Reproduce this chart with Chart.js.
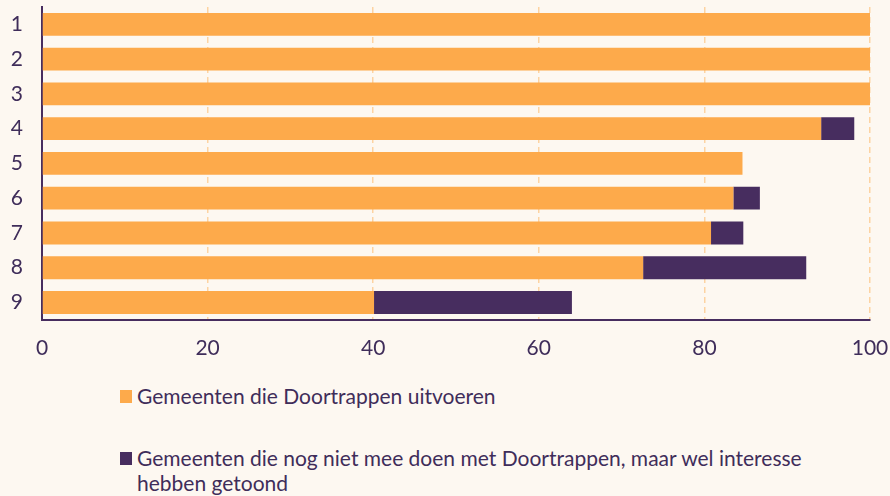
<!DOCTYPE html>
<html>
<head>
<meta charset="utf-8">
<script src="https://cdn.jsdelivr.net/npm/chart.js@4"></script>
<style>
  html, body { margin: 0; padding: 0; background: #fdf8f1; }
  #wrap { position: relative; width: 890px; height: 496px; font-family: Lato, sans-serif; color: #3f2d5a; }
  #results-chart { position: absolute; left: 0; top: 0; }
  #legend { position: absolute; left: 120px; top: 383px; font-size: 21px; line-height: 25px; }
  .item { display: flex; align-items: flex-start; margin-bottom: 37px; }
  .box { width: 12px; height: 13px; flex: none; margin-top: 7px; margin-right: 5px; }
  .txt { width: 690px; }
</style>
</head>
<body>
<div id="wrap">
  <canvas id="results-chart" width="890" height="381"></canvas>
  <div id="legend"></div>
</div>
<script>
const categories = ["1", "2", "3", "4", "5", "6", "7", "8", "9"];
const seriesNames = [
  "Gemeenten die Doortrappen uitvoeren",
  "Gemeenten die nog niet mee doen met Doortrappen, maar wel interesse hebben getoond"
];
const doingValues = [100, 100, 100, 94.1, 84.6, 83.5, 80.8, 72.6, 40.1];
const interestValues = [0, 0, 0, 4, 0, 3.2, 3.9, 19.7, 23.9];
const xTicks = [0, 20, 40, 60, 80, 100];

const orange = "#fdaa4b";
const purple = "#472d5f";
const textColor = "#3f2d5a";
const colors = [orange, purple];

// chart.js adds label overflow + tick padding around the plot; we set the frame ourselves
function noLabelPadding(scale) {
  scale.paddingTop = 0;
  scale.paddingBottom = 0;
  scale.paddingLeft = 0;
  scale.paddingRight = 0;
}

let ctx = document.getElementById("results-chart").getContext("2d");
new Chart(ctx, {
  type: "bar",
  data: {
    labels: categories,
    datasets: [
      { label: seriesNames[0], data: doingValues, backgroundColor: orange },
      { label: seriesNames[1], data: interestValues, backgroundColor: purple },
    ],
  },
  options: {
    indexAxis: "y",
    responsive: false,
    animation: false,
    layout: { padding: { top: 7, right: 20, bottom: 4, left: 0 } },
    datasets: { bar: { categoryPercentage: 1, barPercentage: 0.66 } },
    plugins: { legend: { display: false }, tooltip: { enabled: false } },
    scales: {
      x: {
        stacked: true,
        min: 0,
        max: 100,
        afterBuildTicks: (scale) => { scale.ticks = xTicks.map((v) => ({ value: v })); },
        afterFit: noLabelPadding,
        ticks: { color: textColor, font: { family: "Lato", size: 21 }, padding: 16, maxRotation: 0 },
        grid: {
          drawTicks: false,
          lineWidth: 1.5,
          color: (c) => (c.tick && c.tick.value === 0 ? "rgba(0,0,0,0)" : "#fdd3a2"),
        },
        border: { color: purple, width: 2, dash: [6, 4] },
      },
      y: {
        stacked: true,
        afterFit: (scale) => { scale.width = 42; noLabelPadding(scale); },
        ticks: { color: textColor, font: { family: "Lato", size: 21 }, padding: 19 },
        grid: { display: false, drawTicks: false },
        border: { display: true, color: purple, width: 2 },
      },
    },
  },
});

const legend = document.getElementById("legend");
seriesNames.forEach((name, i) => {
  const item = document.createElement("div");
  item.className = "item";
  const box = document.createElement("span");
  box.className = "box";
  box.style.background = colors[i];
  const text = document.createElement("span");
  text.className = "txt";
  text.textContent = name;
  item.appendChild(box);
  item.appendChild(text);
  legend.appendChild(item);
});
</script>
</body>
</html>
